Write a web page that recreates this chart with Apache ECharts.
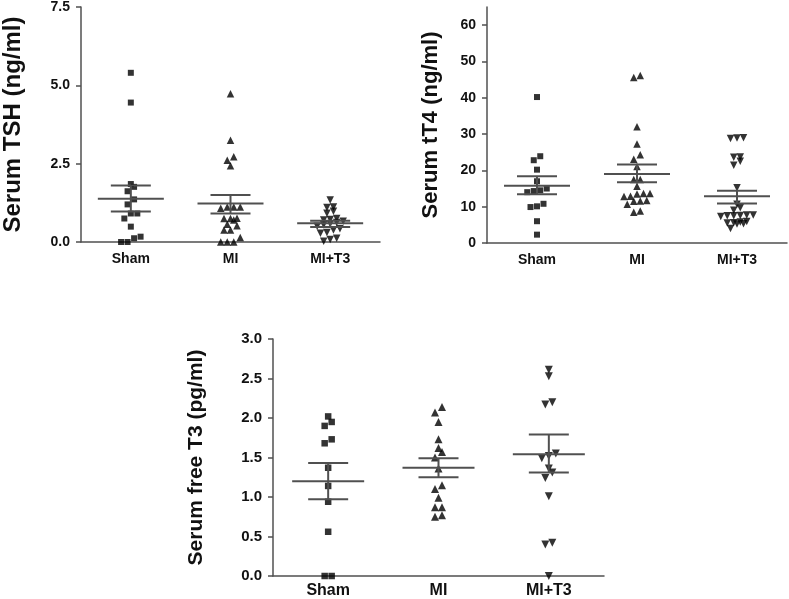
<!DOCTYPE html>
<html><head><meta charset="utf-8">
<script src="https://cdn.jsdelivr.net/npm/echarts@6/dist/echarts.min.js"></script>
<style>html,body{margin:0;padding:0;background:#fff}#c{width:789px;height:599px}</style>
</head><body><div id="c"></div>
<script>
// ---------- data ----------
const groups = ['Sham', 'MI', 'MI+T3'];

const tshSham = [5.40, 4.45, 1.85, 1.76, 1.62, 1.36, 1.20, 0.91, 0.91, 0.75, 0.49, 0.17, 0.12, 0.00, 0.00];
const tshMI   = [4.73, 3.25, 2.72, 2.61, 2.43, 1.12, 1.12, 1.08, 1.12, 0.75, 0.75, 0.70, 0.76, 0.57, 0.52, 0.38, 0.38, 0.14, 0.00, 0.00, 0.00];
const tshMIT3 = [1.34, 1.12, 1.10, 0.98, 0.92, 0.75, 0.72, 0.70, 0.66, 0.62, 0.58, 0.55, 0.50, 0.42, 0.38, 0.30, 0.28, 0.12, 0.08, 0.02];
const tshMean = [1.38, 1.23, 0.60];
const tshLow  = [0.97, 0.91, 0.48];
const tshHigh = [1.80, 1.50, 0.68];
const tshTicks = [0, 2.5, 5.0, 7.5];

const t4Sham = [40.2, 23.9, 22.8, 20.2, 17.0, 15.0, 14.5, 14.3, 14.0, 10.8, 10.1, 9.9, 6.0, 2.3];
const t4MI   = [46.1, 45.6, 32.0, 27.3, 24.3, 23.1, 21.1, 17.5, 17.5, 15.6, 13.6, 13.6, 13.5, 12.9, 12.8, 11.7, 11.6, 11.5, 10.7, 8.8, 8.5];
const t4MIT3 = [29.0, 28.9, 28.8, 23.7, 23.6, 22.5, 21.4, 15.2, 10.7, 9.7, 9.0, 7.7, 7.7, 7.6, 7.5, 7.5, 7.3, 5.9, 5.8, 5.6, 5.5, 5.3, 5.2, 4.0];
const t4Mean = [15.8, 19.0, 12.9];
const t4Low  = [13.4, 16.7, 10.9];
const t4High = [18.4, 21.6, 14.4];
const t4Ticks = [0, 10, 20, 30, 40, 50, 60];
const t4AxisMax = 65;

const ft3Sham = [2.02, 1.95, 1.90, 1.73, 1.68, 1.37, 1.14, 0.94, 0.56, 0.00, 0.00];
const ft3MI   = [2.14, 2.07, 1.95, 1.73, 1.62, 1.57, 1.50, 1.36, 1.15, 1.10, 0.99, 0.87, 0.87, 0.77, 0.75];
const ft3MIT3 = [2.61, 2.53, 2.20, 2.17, 1.55, 1.52, 1.49, 1.36, 1.31, 1.24, 1.01, 0.42, 0.40, 0.00];
const ft3Mean = [1.20, 1.37, 1.54];
const ft3Low  = [0.97, 1.25, 1.31];
const ft3High = [1.43, 1.49, 1.79];
const ft3Ticks = [0, 0.5, 1.0, 1.5, 2.0, 2.5, 3.0];

// ---------- styling / layout ----------
const FONT = "'Liberation Sans', Arial, sans-serif";
const AXIS = '#505050';
const panels = [
  { grid: {left: 75, top: 7, width: 305, height: 235}, name: 'Serum TSH (ng/ml)', nameSize: 24, nameGap: 56,
    sets: [tshSham, tshMI, tshMIT3], mean: tshMean, low: tshLow, high: tshHigh, ticks: tshTicks, max: 7.5, dec: 1,
    tickFont: 14, catFont: 14, catMargin: 10, mw: 33, sw: 20, sym: 6, gap: 6.5 },
  { grid: {left: 487, top: 7, width: 300, height: 236}, name: 'Serum tT4 (ng/ml)', nameSize: 22, nameGap: 45,
    sets: [t4Sham, t4MI, t4MIT3], mean: t4Mean, low: t4Low, high: t4High, ticks: t4Ticks, max: t4AxisMax, dec: 0,
    tickFont: 14, catFont: 14, catMargin: 10, mw: 33, sw: 20, sym: 6, gap: 6.5 },
  { grid: {left: 273, top: 339, width: 331, height: 237}, name: 'Serum free T3 (pg/ml)', nameSize: 21, nameGap: 66,
    sets: [ft3Sham, ft3MI, ft3MIT3], mean: ft3Mean, low: ft3Low, high: ft3High, ticks: ft3Ticks, max: 3.0, dec: 1,
    tickFont: 15, catFont: 16, catMargin: 7, mw: 36, sw: 20, sym: 6.5, gap: 7 }
];
const symbols = [
  { symbol: 'rect', rotate: 0 },
  { symbol: 'triangle', rotate: 0 },
  { symbol: 'triangle', rotate: 180 }
];

const chart = echarts.init(document.getElementById('c'), null, {renderer: 'canvas'});

function buildOption(offsets) {
  const grid = [], xAxis = [], yAxis = [], series = [];
  panels.forEach((p, k) => {
    grid.push(Object.assign({containLabel: false}, p.grid));
    xAxis.push({
      type: 'category', gridIndex: k, data: groups, boundaryGap: true,
      axisLine: {lineStyle: {color: AXIS, width: 1.5}},
      axisTick: {show: false},
      axisLabel: {color: '#111', fontFamily: FONT, fontWeight: 'bold', fontSize: p.catFont, margin: p.catMargin}
    });
    yAxis.push({
      type: 'value', gridIndex: k, min: 0, max: p.max,
      name: p.name, nameLocation: 'middle', nameRotate: 90, nameGap: p.nameGap,
      nameTextStyle: {color: '#111', fontFamily: FONT, fontWeight: 'bold', fontSize: p.nameSize},
      splitLine: {show: false},
      axisLine: {show: true, lineStyle: {color: AXIS, width: 1.5}},
      axisTick: {show: true, length: 5, lineStyle: {color: AXIS, width: 1.5}, customValues: p.ticks},
      axisLabel: {color: '#111', fontFamily: FONT, fontWeight: 'bold', fontSize: p.tickFont, margin: 11,
        customValues: p.ticks, formatter: v => Number(v).toFixed(p.dec)}
    });
    p.sets.forEach((vals, g) => {
      series.push({
        type: 'scatter', xAxisIndex: k, yAxisIndex: k,
        symbol: symbols[g].symbol, symbolRotate: symbols[g].rotate,
        symbolSize: g === 0 ? p.sym : p.sym + 1.5,
        itemStyle: {color: '#000'},
        z: 2,
        data: vals.map((v, i) => ({
          value: [g, v],
          symbolOffset: offsets ? [offsets[k][g][i], 0] : [0, 0]
        }))
      });
    });
    series.push({
      type: 'custom', xAxisIndex: k, yAxisIndex: k, z: 3,
      encode: {x: 0, y: [1, 2, 3]},
      data: groups.map((g, i) => [i, p.mean[i], p.low[i], p.high[i]]),
      renderItem: (params, api) => {
        const c = api.coord([api.value(0), api.value(1)]);
        const lo = api.coord([api.value(0), api.value(2)]);
        const hi = api.coord([api.value(0), api.value(3)]);
        const st = {stroke: AXIS, lineWidth: 2};
        return {type: 'group', children: [
          {type: 'line', shape: {x1: c[0] - p.mw, y1: c[1], x2: c[0] + p.mw, y2: c[1]}, style: st},
          {type: 'line', shape: {x1: c[0] - p.sw, y1: hi[1], x2: c[0] + p.sw, y2: hi[1]}, style: st},
          {type: 'line', shape: {x1: c[0] - p.sw, y1: lo[1], x2: c[0] + p.sw, y2: lo[1]}, style: st},
          {type: 'line', shape: {x1: c[0], y1: hi[1], x2: c[0], y2: lo[1]}, style: st}
        ]};
      }
    });
  });
  return {animation: false, backgroundColor: '#fff', grid, xAxis, yAxis, series};
}

chart.setOption(buildOption(null));

// spread points that share nearly the same height side by side (column scatter layout)
const offsets = panels.map((p, k) => p.sets.map((vals, g) => {
  const pts = vals.map((v, i) => ({i, py: chart.convertToPixel({gridIndex: k}, [g, v])[1]}));
  pts.sort((a, b) => b.py - a.py);
  const out = new Array(vals.length).fill(0);
  let row = [];
  const flush = () => {
    row.forEach((pt, j) => { out[pt.i] = (j - (row.length - 1) / 2) * p.gap; });
    row = [];
  };
  pts.forEach(pt => {
    if (row.length && Math.abs(pt.py - row[0].py) > p.sym * 0.9) flush();
    row.push(pt);
  });
  flush();
  return out;
}));

chart.setOption(buildOption(offsets), true);
</script>
</body></html>
